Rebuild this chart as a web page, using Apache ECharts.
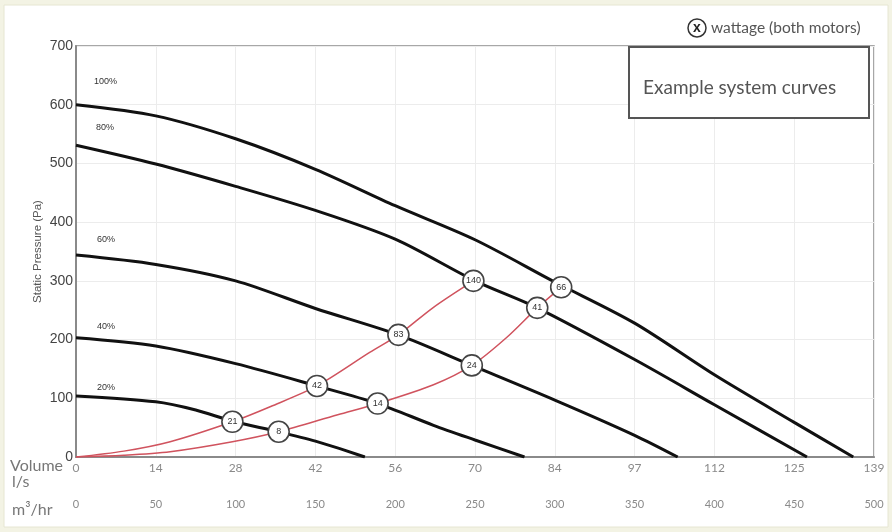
<!DOCTYPE html>
<html><head><meta charset="utf-8">
<script src="https://cdn.jsdelivr.net/npm/echarts/dist/echarts.min.js"></script>
<style>html,body{margin:0;padding:0;background:#f3f3e4}#c{width:892px;height:532px}</style>
</head><body><div id="c"></div>
<script>
// x values are flow in m³/hr, y values static pressure in Pa
const lsLabels = ['0','14','28','42','56','70','84','97','112','125','139'];
const m3hLabels = ['0','50','100','150','200','250','300','350','400','450','500'];
const pressureTicks = [0,100,200,300,400,500,600,700];

const fan100 = [[0,600],[50,581],[100,542],[150,490],[200,428],[250,370],[300,298],[350,228],[400,140],[450,59],[487,0]];
const fan80  = [[0,531],[50,499],[100,461],[150,420],[200,371],[250,300],[289,254],[350,166],[400,89],[458,0]];
const fan60  = [[0,344],[50,328],[100,300],[150,253],[202,208],[248,156],[300,97],[350,37],[377,0]];
const fan40  = [[0,203],[50,189],[100,159],[151,121],[189,91],[224,54],[250,29],[281,0]];
const fan20  = [[0,104],[50,94],[75,80],[98,61],[127,43],[150,27],[181,0]];
const fanNames = ['100%','80%','60%','40%','20%'];

const sysA = [[0,0],[30,10],[59,26],[98,60],[122,86],[151,121],[184,178],[202,208],[224,255],[249,300]];
const sysB = [[0,0],[30,3],[59,9],[98,26],[127,43],[164,72],[189,91],[224,123],[248,156],[270,204],[289,254],[304,289]];

const wattA = [[98,60,'21'],[151,121,'42'],[202,208,'83'],[249,300,'140']];
const wattB = [[127,43,'8'],[189,91,'14'],[248,156,'24'],[289,254,'41'],[304,289,'66']];

const chart = echarts.init(document.getElementById('c'));
const fanSeries = [fan100, fan80, fan60, fan40, fan20].map((d,i)=>({
  name: fanNames[i], type:'line', data:d, smooth:0.3, symbol:'none',
  lineStyle:{color:'#111', width:3}, z:3
}));
const sysSeries = [sysA, sysB].map(d=>({
  type:'line', data:d, smooth:0.3, symbol:'none',
  lineStyle:{color:'#d0535e', width:1.5}, z:4
}));
const wattSeries = [wattA, wattB].map(d=>({
  type:'scatter', data:d, symbol:'circle', symbolSize:21, z:6,
  itemStyle:{color:'#fff', borderColor:'#444', borderWidth:1.6, opacity:1},
  label:{show:true, position:'inside', formatter:p=>p.data[2], fontSize:9, color:'#333', fontFamily:'Liberation Sans'}
}));

const font = 'Lato';
chart.setOption({
  animation:false,
  backgroundColor:'#f3f3e4',
  grid:{left:76, right:18, top:46, bottom:75, show:true, backgroundColor:'#fff', borderColor:'#8a8a8a', borderWidth:1.5},
  xAxis:[{
    type:'value', min:0, max:500, interval:50,
    axisLine:{show:true, onZero:false, lineStyle:{color:'#8a8a8a', width:2}},
    axisTick:{show:false},
    splitLine:{show:true, lineStyle:{color:'#ececec', width:1}},
    axisLabel:{margin:5, fontSize:12, color:'#8a8a8a', fontFamily:font,
      formatter:v=>lsLabels[Math.round(v/50)]}
  },{
    type:'value', min:0, max:500, interval:50, position:'bottom',
    axisLine:{show:false}, axisTick:{show:false}, splitLine:{show:false},
    axisLabel:{margin:42, fontSize:11, color:'#8a8a8a', fontFamily:font,
      formatter:v=>m3hLabels[Math.round(v/50)]}
  }],
  yAxis:{
    type:'value', min:0, max:700, interval:100,
    name:'Static Pressure (Pa)', nameLocation:'middle', nameGap:32, nameMoveOverlap:false,
    nameTextStyle:{fontSize:11.5, color:'#555', fontFamily:'Liberation Sans'},
    axisLine:{show:true, lineStyle:{color:'#8a8a8a', width:2}},
    axisTick:{show:false},
    splitLine:{show:true, lineStyle:{color:'#ececec', width:1}},
    axisLabel:{margin:3, fontSize:14, color:'#444', fontFamily:'Liberation Sans',
      formatter:v=>pressureTicks.includes(v)?String(v):''}
  },
  series:[...fanSeries, ...sysSeries, ...wattSeries],
  graphic:[
    {type:'rect', z:-10, shape:{x:4,y:5,width:884,height:522}, style:{fill:'#fff', stroke:'#e6e6d2', lineWidth:1}},
    {type:'text', left:94, top:77, style:{text:'100%', fill:'#333', font:'9px Liberation Sans'}},
    {type:'text', left:96, top:123, style:{text:'80%', fill:'#333', font:'9px Liberation Sans'}},
    {type:'text', left:97, top:235, style:{text:'60%', fill:'#333', font:'9px Liberation Sans'}},
    {type:'text', left:97, top:322, style:{text:'40%', fill:'#333', font:'9px Liberation Sans'}},
    {type:'text', left:97, top:383, style:{text:'20%', fill:'#333', font:'9px Liberation Sans'}},
    {type:'circle', shape:{cx:697, cy:28, r:9}, style:{fill:'#fff', stroke:'#333', lineWidth:1.5}},
    {type:'text', x:697, y:28, style:{text:'x', fill:'#222', font:'bold 14px Liberation Sans', textAlign:'center', textVerticalAlign:'middle'}},
    {type:'text', x:711, y:28, style:{text:'wattage (both motors)', fill:'#555', font:'15.5px Lato', textVerticalAlign:'middle'}},
    {type:'rect', shape:{x:629,y:47,width:240,height:71}, style:{fill:'#fff', stroke:'#555', lineWidth:2}, z:10},
    {type:'text', x:643, y:88, z:11, style:{text:'Example system curves', fill:'#555', font:'19px Lato', textVerticalAlign:'middle'}},
    {type:'text', x:10, y:466, style:{text:'Volume', fill:'#777', font:'16px Lato', textVerticalAlign:'middle'}},
    {type:'text', x:12, y:482, style:{text:'l/s', fill:'#777', font:'16px Lato', textVerticalAlign:'middle'}},
    {type:'text', x:12, y:510, style:{text:'m\u00B3/hr', fill:'#777', font:'16px Lato', textVerticalAlign:'middle'}}
  ]
});
</script></body></html>
